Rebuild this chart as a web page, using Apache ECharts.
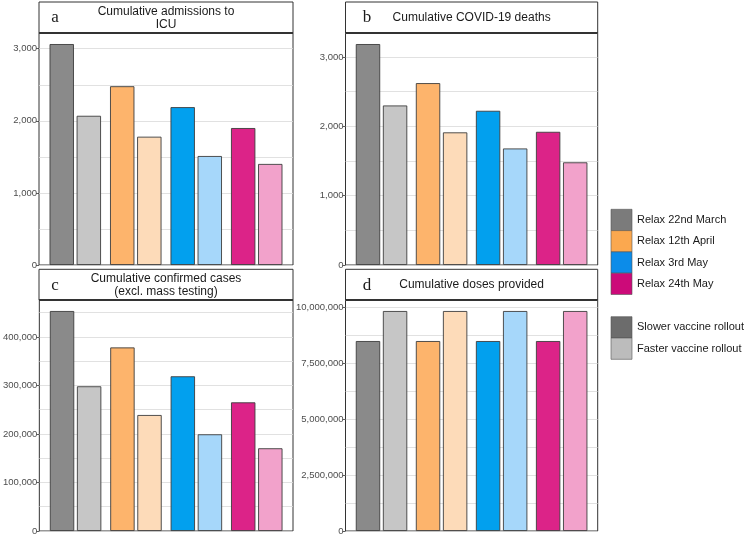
<!DOCTYPE html>
<html>
<head>
<meta charset="utf-8">
<script src="https://cdn.jsdelivr.net/npm/echarts@6/dist/echarts.min.js"></script>
<style>
  html, body { margin: 0; padding: 0; background: #fff; }
  #chart { width: 748px; height: 537px; }
</style>
</head>
<body>
<div id="chart"></div>
<script>
// ---------- data ----------
var scenarios = ['Relax 22nd March', 'Relax 12th April', 'Relax 3rd May', 'Relax 24th May'];
var rollouts = ['Slower vaccine rollout', 'Faster vaccine rollout'];

var icuSlower    = [3065, 2480, 2190, 1900];
var icuFaster    = [2070, 1780, 1512, 1402];
var deathsSlower = [3185, 2622, 2223, 1920];
var deathsFaster = [2300, 1912, 1680, 1480];
var casesSlower  = [453600, 378500, 319000, 265300];
var casesFaster  = [298400, 239200, 199400, 170600];
var dosesSlower  = [8480000, 8480000, 8480000, 8480000];
var dosesFaster  = [9820000, 9820000, 9820000, 9820000];

var panelTitles = ['Cumulative admissions to\nICU', 'Cumulative COVID-19 deaths',
  'Cumulative confirmed cases\n(excl. mass testing)', 'Cumulative doses provided'];
var panelLetters = ['a', 'b', 'c', 'd'];
var tickSteps = [1000, 1000, 100000, 2500000];

// ---------- styles ----------
var slowerColors = ['#8a8a8a', '#fdb46c', '#02a0ee', '#dc2388'];
var fasterColors = ['#c6c6c6', '#fddbb9', '#a6d7fa', '#f2a2cb'];
var legendColors = ['#7b7b7b', '#fba84f', '#0c8ce9', '#cc0a79'];
var rolloutColors = ['#6c6c6c', '#bcbcbc'];

var layout = [
  { left: 39,    top: 33,  width: 254,   height: 232, stripTop: 2 },
  { left: 345.5, top: 33,  width: 252.2, height: 232, stripTop: 2 },
  { left: 39,    top: 300, width: 254,   height: 231, stripTop: 269.3 },
  { left: 345.5, top: 300, width: 252.2, height: 231, stripTop: 269.3 }
];

var chart = echarts.init(document.getElementById('chart'));

var grids = [], xAxes = [], yAxes = [], series = [], graphics = [];
var seriesData = [[icuSlower, icuFaster], [deathsSlower, deathsFaster],
                  [casesSlower, casesFaster], [dosesSlower, dosesFaster]];

function fmt(v) { return Number(v).toLocaleString('en-US'); }

seriesData.forEach(function (pair, k) {
  var L = layout[k];
  var step = tickSteps[k];
  var maxVal = Math.max.apply(null, pair[0].concat(pair[1])) * 1.05;
  var labelVals = [];
  for (var v = 0; v <= maxVal; v += step) labelVals.push(v);

  grids.push({
    left: L.left, top: L.top, width: L.width, height: L.height,
    show: true, borderColor: '#333', borderWidth: 1, backgroundColor: 'transparent'
  });
  xAxes.push({
    type: 'value', gridIndex: k, min: 0.4, max: 4.6, show: false
  });
  // labelled axis
  yAxes.push({
    type: 'value', gridIndex: k, min: 0, max: maxVal, interval: step,
    axisLine: { show: false },
    axisTick: { show: true, length: 3, customValues: labelVals, lineStyle: { color: '#333', width: 0.8 } },
    axisLabel: { customValues: labelVals, formatter: fmt, color: '#4d4d4d', fontSize: 9.5,
                 fontFamily: 'Liberation Sans', margin: 2 },
    splitLine: { show: false }
  });
  // gridline axis
  yAxes.push({
    type: 'value', gridIndex: k, min: 0, max: maxVal, interval: step / 2,
    axisLine: { show: false }, axisTick: { show: false }, axisLabel: { show: false },
    splitLine: { show: true, lineStyle: { color: '#d9d9d9', width: 0.8 } }
  });

  [0, 1].forEach(function (r) {
    var cols = r === 0 ? slowerColors : fasterColors;
    series.push({
      type: 'bar',
      name: rollouts[r],
      xAxisIndex: k, yAxisIndex: k * 2,
      barWidth: 24.4, barGap: '11%',
      itemStyle: { borderColor: '#3d3d3d', borderWidth: 0.9 },
      data: scenarios.map(function (s, i) {
        return { name: s, value: [i + 1, pair[r][i]], itemStyle: { color: cols[i] } };
      })
    });
  });

  // strip
  var sh = L.top - L.stripTop;
  graphics.push({
    type: 'rect', shape: { x: L.left, y: L.stripTop, width: L.width, height: sh },
    style: { fill: '#fff', stroke: '#333', lineWidth: 1 }, z: 10
  });
  graphics.push({
    type: 'line', shape: { x1: L.left, y1: L.top, x2: L.left + L.width, y2: L.top },
    style: { stroke: '#333', lineWidth: 1.8 }, z: 11
  });
  graphics.push({
    type: 'text', x: L.left + L.width / 2, y: L.stripTop + sh / 2 + 0.5, z: 12,
    style: { text: panelTitles[k], fontSize: 12, lineHeight: 12.5, fontFamily: 'Liberation Sans',
             fill: '#1a1a1a', align: 'center', verticalAlign: 'middle' }
  });
  graphics.push({
    type: 'text', x: L.left + (k % 2 === 0 ? 16 : 21.5), y: L.stripTop + sh / 2 + 0.5, z: 12,
    style: { text: panelLetters[k], fontSize: 17, fontFamily: 'Liberation Serif',
             fill: '#1a1a1a', align: 'center', verticalAlign: 'middle' }
  });
});

// ---------- legend ----------
var keyX = 611, keyW = 21, keyH = 21.3;
scenarios.forEach(function (s, i) {
  var y = 209.3 + i * keyH;
  graphics.push({ type: 'rect', shape: { x: keyX, y: y, width: keyW, height: keyH },
    style: { fill: legendColors[i], stroke: '#555', lineWidth: 0.6 } });
  graphics.push({ type: 'text', x: keyX + 26, y: y + keyH / 2,
    style: { text: s, fontSize: 11, fontFamily: 'Liberation Sans', fill: '#1a1a1a', verticalAlign: 'middle' } });
});
rollouts.forEach(function (s, i) {
  var y = 316.7 + i * keyH;
  graphics.push({ type: 'rect', shape: { x: keyX, y: y, width: keyW, height: keyH },
    style: { fill: rolloutColors[i], stroke: '#555', lineWidth: 0.6 } });
  graphics.push({ type: 'text', x: keyX + 26, y: y + keyH / 2,
    style: { text: s, fontSize: 11, fontFamily: 'Liberation Sans', fill: '#1a1a1a', verticalAlign: 'middle' } });
});

chart.setOption({
  animation: false,
  backgroundColor: '#fff',
  grid: grids,
  xAxis: xAxes,
  yAxis: yAxes,
  series: series,
  graphic: graphics
});
</script>
</body>
</html>
